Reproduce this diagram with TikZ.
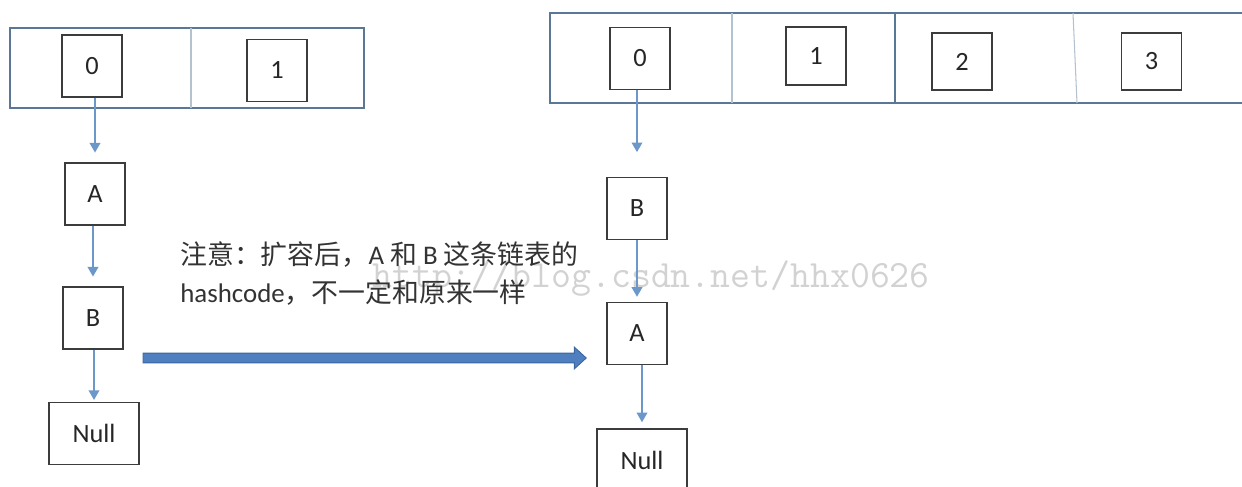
\documentclass[tikz,border=0pt]{standalone}
\usepackage{fontspec}
\setmainfont{Carlito}
\newfontfamily\cjk{Noto Sans CJK SC}
\usetikzlibrary{arrows.meta}
\definecolor{tabline}{HTML}{5A7896}
\definecolor{thindiv}{HTML}{B4C2D0}
\definecolor{boxline}{HTML}{3C3C3C}
\definecolor{ptrblue}{HTML}{6B97C9}
\definecolor{bigfill}{HTML}{4F7FBF}
\definecolor{bigdraw}{HTML}{3B66A0}
\definecolor{notegray}{HTML}{333333}
\tikzset{
  cell/.style={draw=boxline, line width=0.85pt, minimum width=1.2cm, minimum height=1.24cm,
    inner sep=0pt, text=black!85, font=\fontsize{15}{17}\selectfont},
  nullcell/.style={cell, minimum width=1.8cm},
  ptr/.style={draw=ptrblue, line width=1.1pt, -{Triangle[length=5.5pt,width=6pt,fill=ptrblue]}},
  bigarrow/.style={fill=bigfill, draw=bigdraw, line width=0.5pt},
  note/.style={align=left, inner sep=0pt, text=notegray, font=\fontsize{15.3}{22}\selectfont},
  wmark/.style={inner sep=0pt, text=gray!35, font=\ttfamily\fontsize{22}{24}\selectfont}
}
\begin{document}
\begin{tikzpicture}[x=0.02cm, y=-0.02cm]
  \useasboundingbox (0,0) rectangle (1242,487);
  \clip (0,0) rectangle (1242,487);
  \node[wmark, anchor=base west] (wm) at (372,287) {http://blog.csdn.net/hhx0626};

  \draw[tabline, line width=0.9pt] (10,28) rectangle (364,108);
  \draw[thindiv, line width=0.6pt] (191,28) -- (191,108);
  \node[cell] (o0) at (92,66) {0};
  \node[cell] (o1) at (277,70.5) {1};
  \node[cell] (oa) at (95,194) {A};
  \node[cell] (ob) at (93,318) {B};
  \node[nullcell] (onull) at (94,433.5) {Null};
  \draw[ptr, shorten >=5.5pt] (o0.south -| oa) -- (oa.north);
  \draw[ptr, shorten >=5.5pt] (oa.south -| ob) -- (ob.north);
  \draw[ptr, shorten >=1pt] (ob.south -| onull) -- (onull.north);

  \draw[tabline, line width=0.9pt] (1250,13) -- (550,13) -- (550,103) -- (1250,103);
  \draw[thindiv, line width=0.6pt] (732,13) -- (732,103);
  \draw[tabline, line width=0.7pt] (895,13) -- (895,103);
  \draw[thindiv, line width=0.6pt] (1073,13) -- (1077,103);
  \node[cell] (n0) at (640,58.5) {0};
  \node[cell, minimum height=1.16cm] (n1) at (816,56) {1};
  \node[cell, minimum height=1.14cm] (n2) at (962,61.5) {2};
  \node[cell, minimum height=1.14cm] (n3) at (1151.5,61.5) {3};
  \node[cell] (nb) at (637,208.5) {B};
  \node[cell] (na) at (637,333.5) {A};
  \node[nullcell] (nnull) at (642,460) {Null};
  \draw[ptr, shorten >=14pt] (n0.south -| nb) -- (nb.north);
  \draw[ptr, shorten >=2.8pt] (nb.south) -- (na.north);
  \draw[ptr, shorten >=3.4pt] (na.south -| nnull) -- (nnull.north);

  \coordinate (from) at (143,358);
  \path (na.west |- from) ++(-20,0) coordinate (tip);
  \filldraw[bigarrow] ([yshift=2.8pt]from) -- ([xshift=-6.8pt,yshift=2.8pt]tip)
    -- ([xshift=-6.8pt,yshift=6.2pt]tip) -- (tip) -- ([xshift=-6.8pt,yshift=-6.2pt]tip)
    -- ([xshift=-6.8pt,yshift=-2.8pt]tip) -- ([yshift=-2.8pt]from) -- cycle;

  \node[note, anchor=north west] (note) at (180,241)
    {{\cjk 注意：扩容后，}A {\cjk 和} B {\cjk 这条链表的}\\hashcode{\cjk ，不一定和原来一样}};
\end{tikzpicture}
\end{document}
